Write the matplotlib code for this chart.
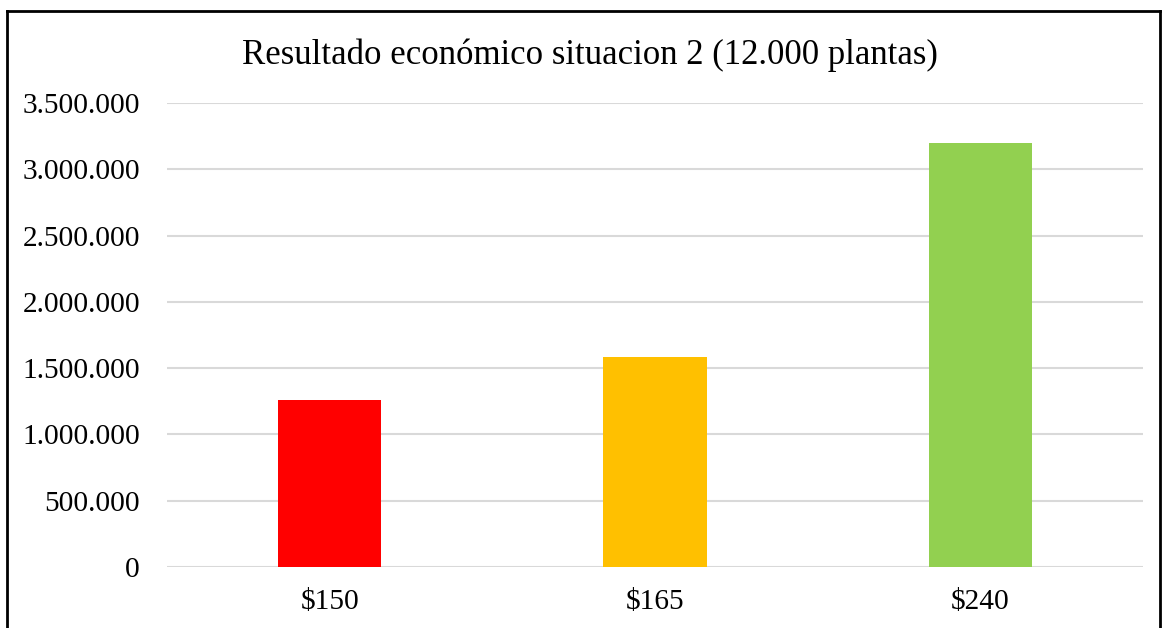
import matplotlib
matplotlib.use("Agg")
import matplotlib.pyplot as plt

categories = ["$150", "$165", "$240"]
values = [1262000, 1587000, 3198000]
colors = ["#FF0000", "#FFC000", "#92D050"]
yticks = [0, 500000, 1000000, 1500000, 2000000, 2500000, 3000000, 3500000]

plt.rcParams["font.family"] = ["Liberation Serif", "DejaVu Serif"]


def fmt(v):
    return "{:,}".format(v).replace(",", ".")


fig = plt.figure(figsize=(11.62, 6.28), dpi=100)
ax = fig.add_axes([167 / 1162, 1 - 567 / 628, 976 / 1162, 464 / 628])

x = range(len(categories))
ax.bar(x, values, width=0.317, color=colors, zorder=3)

ax.set_xlim(-0.5, 2.5)
ax.set_ylim(0, 3500000)
ax.set_yticks(yticks)
ax.set_yticklabels([fmt(v) for v in yticks], fontsize=21.2)
ax.set_xticks(list(x))
ax.set_xticklabels([c.replace("$", r"\$") for c in categories], fontsize=21.2)
ax.tick_params(length=0)
ax.tick_params(axis="y", pad=19.5)
ax.tick_params(axis="x", pad=16)
ax.grid(axis="y", color="#d9d9d9", linewidth=1.5, zorder=0)
for s in ax.spines.values():
    s.set_visible(False)

fig.text(590 / 1162, 1 - 55 / 628, "Resultado económico situacion 2 (12.000 plantas)",
         ha="center", va="center", fontsize=25)

# outer frame
fig.add_artist(plt.Line2D([6.5 / 1162, 6.5 / 1162], [0, 1 - 10.5 / 628], color="black", lw=2, transform=fig.transFigure))
fig.add_artist(plt.Line2D([6.5 / 1162, 1160 / 1162], [1 - 10.5 / 628, 1 - 10.5 / 628], color="black", lw=2, transform=fig.transFigure))
fig.add_artist(plt.Line2D([1160 / 1162, 1160 / 1162], [0, 1 - 10.5 / 628], color="black", lw=2, transform=fig.transFigure))

fig.savefig("out.png", dpi=100)
